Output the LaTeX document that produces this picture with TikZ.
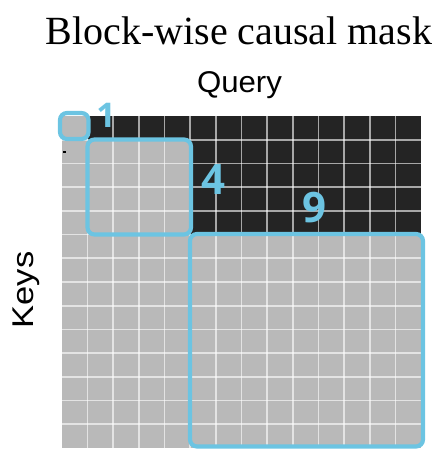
\documentclass[tikz,border=0pt]{standalone}
\usepackage{fontspec}
\setmainfont{Liberation Serif}
\newfontfamily\axisfont{Liberation Sans}
\newfontfamily\countfont{Open Sans}
\definecolor{blockblue}{RGB}{108,196,226}
\definecolor{cellgray}{RGB}{185,185,185}
\definecolor{celldark}{RGB}{36,36,36}
\tikzset{
  gridline/.style={white, opacity=0.6, line width=1.6pt},
  blockframe/.style={draw=blockblue, line width=4.2pt, rounded corners=7pt},
  count/.style={text=blockblue, inner sep=0pt},
  axislabel/.style={inner sep=0pt, font=\axisfont\fontsize{30}{30}\selectfont},
}
\begin{document}
\begin{tikzpicture}[x=1pt,y=-1pt]
\useasboundingbox (0,0) rectangle (441,450);
% grid geometry: 14 x 14 cells
\def\gx{62}\def\gy{116}\def\cw{25.643}\def\ch{23.714}
\coordinate (g0) at (\gx,\gy);
\coordinate (g1) at (\gx+14*\cw,\gy+14*\ch);
% allowed (gray) and masked (dark) cells
\fill[cellgray] (g0) rectangle (g1);
\fill[celldark] (\gx+\cw,\gy) rectangle (\gx+14*\cw,\gy+\ch);
\fill[celldark] (\gx+5*\cw,\gy+\ch) rectangle (\gx+14*\cw,\gy+5*\ch);
% cell separators
\foreach \i in {1,...,13} {
  \draw[gridline] (\gx+\i*\cw,\gy) -- (\gx+\i*\cw,\gy+14*\ch);
  \draw[gridline] (\gx,\gy+\i*\ch) -- (\gx+14*\cw,\gy+\i*\ch);
}
% small tick on the left edge
\fill[black] (63,150.5) rectangle (66,152.5);
% block frames
\draw[blockframe] (60,113) rectangle (88.5,139);
\draw[blockframe] (87.5,139.5) rectangle (191,234.5);
\draw[blockframe] (190,234) rectangle (423,446.5);
% block sizes
\node[count, font=\countfont\bfseries\fontsize{34}{34}\selectfont] (n1) at (106,115) {1};
\node[count, font=\countfont\bfseries\fontsize{42}{42}\selectfont] (n4) at (213,180) {4};
\node[count, font=\countfont\bfseries\fontsize{42}{42}\selectfont] (n9) at (314,208) {9};
% titles and axes
\node[inner sep=0pt, anchor=base, font=\fontsize{40}{40}\selectfont] (title) at (239,44) {Block-wise causal mask};
\node[axislabel, anchor=base] (query) at (239.5,92) {\scalebox{1.04}[1]{Query}};
\node[axislabel, anchor=base, rotate=90] (keys) at (33,290) {\scalebox{1.15}[1]{Keys}};
\end{tikzpicture}
\end{document}
